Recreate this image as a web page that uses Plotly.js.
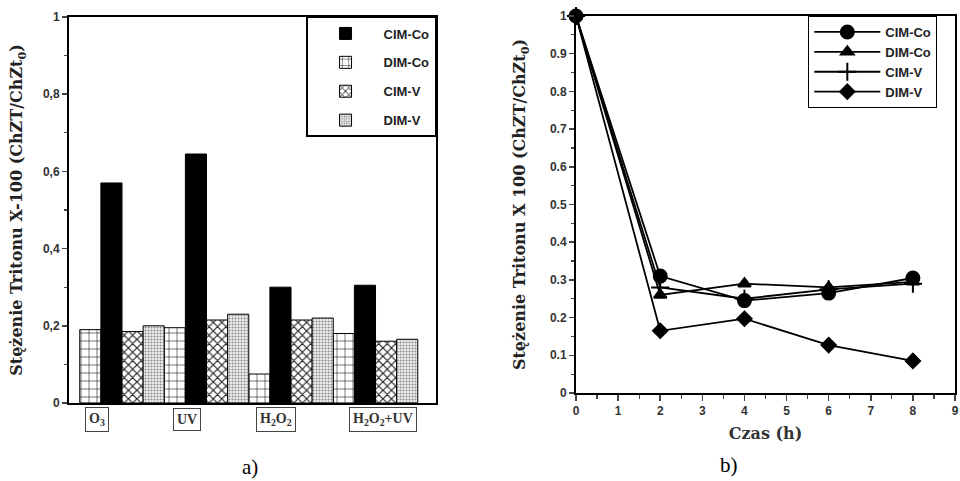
<!DOCTYPE html>
<html><head><meta charset="utf-8">
<script src="https://cdn.plot.ly/plotly-3.0.1.min.js"></script>
<style>html,body{margin:0;padding:0;background:#fff}#chart{width:960px;height:481px}</style>
</head><body><div id="chart"></div>
<script>
// ---- Panel a) data ----
const processes = ['O3', 'UV', 'H2O2', 'H2O2+UV'];
const processLabels = ['O<sub>3</sub>', 'UV', 'H<sub>2</sub>O<sub>2</sub>', 'H<sub>2</sub>O<sub>2</sub>+UV'];
const dimCo = [0.19, 0.195, 0.075, 0.18];
const cimCo = [0.57, 0.645, 0.30, 0.305];
const cimV  = [0.185, 0.215, 0.215, 0.16];
const dimV  = [0.20, 0.23, 0.22, 0.165];
const yTicksA = [0, 0.2, 0.4, 0.6, 0.8, 1];
const yTickTextA = ['0', '0,2', '0,4', '0,6', '0,8', '1'];

// ---- Panel b) data ----
const timeH = [0, 2, 4, 6, 8];
const cimCoT = [1, 0.31, 0.245, 0.265, 0.305];
const dimCoT = [1, 0.26, 0.29, 0.28, 0.295];
const cimVT  = [1, 0.28, 0.25, 0.275, 0.29];
const dimVT  = [1, 0.165, 0.197, 0.127, 0.085];
const yTicksB = [0, 0.1, 0.2, 0.3, 0.4, 0.5, 0.6, 0.7, 0.8, 0.9, 1];
const yTickTextB = ['0', '0.1', '0.2', '0.3', '0.4', '0.5', '0.6', '0.7', '0.8', '0.9', '1'];
const xTicksB = [0, 1, 2, 3, 4, 5, 6, 7, 8, 9];

const seriesNames = ['CIM-Co', 'DIM-Co', 'CIM-V', 'DIM-V'];

const barLine = {color: '#000', width: 1};
const traces = [
  {type: 'bar', name: seriesNames[1], x: processes, y: dimCo, xaxis: 'x', yaxis: 'y', legendrank: 2, legendgroup: 'g2',
   marker: {color: '#fff', line: barLine, pattern: {shape: '+', fgcolor: '#111', bgcolor: '#fff', size: 8, solidity: 0.14}}},
  {type: 'bar', name: seriesNames[0], x: processes, y: cimCo, xaxis: 'x', yaxis: 'y', legendrank: 1, legendgroup: 'g1',
   marker: {color: '#000', line: barLine}},
  {type: 'bar', name: seriesNames[2], x: processes, y: cimV, xaxis: 'x', yaxis: 'y', legendrank: 3, legendgroup: 'g3',
   marker: {color: '#fff', line: barLine, pattern: {shape: 'x', fgcolor: '#222', bgcolor: '#fff', size: 6, solidity: 0.35}}},
  {type: 'bar', name: seriesNames[3], x: processes, y: dimV, xaxis: 'x', yaxis: 'y', legendrank: 4, legendgroup: 'g4',
   marker: {color: '#eee', line: barLine, pattern: {shape: '.', fgcolor: '#888', bgcolor: '#f2f2f2', size: 3, solidity: 0.4}}},
];

const lineStyle = {color: '#000', width: 1.8};
const mk = (symbol, size) => ({symbol: symbol, size: size, color: '#000', line: {color: '#000', width: 2}});
traces.push(
  {type: 'scatter', mode: 'lines+markers', name: seriesNames[0], x: timeH, y: cimCoT, xaxis: 'x2', yaxis: 'y2', legend: 'legend2', cliponaxis: false, line: lineStyle, marker: mk('circle', 13)},
  {type: 'scatter', mode: 'lines+markers', name: seriesNames[1], x: timeH, y: dimCoT, xaxis: 'x2', yaxis: 'y2', legend: 'legend2', cliponaxis: false, line: lineStyle, marker: mk('triangle-up', 11)},
  {type: 'scatter', mode: 'lines+markers', name: seriesNames[2], x: timeH, y: cimVT, xaxis: 'x2', yaxis: 'y2', legend: 'legend2', cliponaxis: false, line: lineStyle, marker: mk('cross-thin', 13)},
  {type: 'scatter', mode: 'lines+markers', name: seriesNames[3], x: timeH, y: dimVT, xaxis: 'x2', yaxis: 'y2', legend: 'legend2', cliponaxis: false, line: lineStyle, marker: mk('diamond', 11)}
);

const tickFont = {family: 'Liberation Sans, Arial, sans-serif', size: 12, color: '#333', weight: 'bold'};
const titleFont = {family: 'DejaVu Serif, serif', size: 16, color: '#222'};
const yTitleText = '<b>Stężenie Tritonu X-100 (ChZT/ChZt<sub>0</sub>)</b>';
const yTitleTextB = '<b>Stężenie Tritonu X 100 (ChZT/ChZt<sub>0</sub>)</b>';

const labelShift = [-25, -20, -15, 7];
const annotations = processLabels.map((t, i) => ({
  xref: 'x', yref: 'paper', x: processes[i], y: 0.127, yanchor: 'middle', xshift: labelShift[i], text: t, showarrow: false,
  font: {family: 'Liberation Serif, serif', size: 14, color: '#333', weight: 'bold'}, bordercolor: '#444', borderwidth: 1, borderpad: 3
}));
annotations.push(
  {xref: 'paper', yref: 'paper', x: 0.25, y: 0.029, yanchor: 'middle', text: 'a)', showarrow: false, font: {family: 'Liberation Serif, serif', size: 21, color: '#000'}},
  {xref: 'paper', yref: 'paper', x: 0.771, y: 0.033, yanchor: 'middle', text: 'b)', showarrow: false, font: {family: 'Liberation Serif, serif', size: 21, color: '#000'}}
);

const layout = {
  width: 960, height: 481,
  margin: {l: 0, r: 0, t: 0, b: 0},
  paper_bgcolor: '#fff', plot_bgcolor: '#fff',
  barmode: 'group', bargap: 0, bargroupgap: 0,
  showlegend: true,
  xaxis: {domain: [0.0719, 0.4542], type: 'category', range: [-0.627, 3.716], showline: true, mirror: true, linecolor: '#000', linewidth: 2,
          ticks: '', showticklabels: false, showgrid: false, zeroline: false, anchor: 'y', fixedrange: true},
  yaxis: {domain: [0.1622, 0.9647], range: [0, 1], tickmode: 'array', tickvals: yTicksA, ticktext: yTickTextA, ticks: 'outside', ticklen: 5, tickwidth: 1.5,
          minor: {tickmode: 'linear', tick0: 0, dtick: 0.1, ticks: 'outside', ticklen: 3, tickwidth: 1.2, showgrid: false},
          showline: true, mirror: true, linecolor: '#000', linewidth: 2, showgrid: false, zeroline: false, tickfont: tickFont,
          title: {text: yTitleText, font: titleFont, standoff: 16}, anchor: 'x', automargin: false},
  xaxis2: {domain: [0.6, 0.9948], range: [0, 9], tickmode: 'array', tickvals: xTicksB, ticks: 'outside', ticklen: 6, tickwidth: 1.5,
           minor: {tickmode: 'linear', tick0: 0, dtick: 0.5, ticks: 'outside', ticklen: 4, tickwidth: 1.2, showgrid: false},
           showline: true, mirror: true, linecolor: '#000', linewidth: 2, showgrid: false, zeroline: false, tickfont: tickFont,
           title: {text: '<b>Czas (h)</b>', font: {family: 'DejaVu Serif, serif', size: 16, color: '#333'}, standoff: 10}, anchor: 'y2', automargin: false},
  yaxis2: {domain: [0.183, 0.9667], range: [0, 1], tickmode: 'array', tickvals: yTicksB, ticktext: yTickTextB, ticks: 'outside', ticklen: 5, tickwidth: 1.5,
           minor: {tickmode: 'linear', tick0: 0, dtick: 0.05, ticks: 'outside', ticklen: 3, tickwidth: 1.2, showgrid: false},
           showline: true, mirror: true, linecolor: '#000', linewidth: 2, showgrid: false, zeroline: false, tickfont: tickFont,
           title: {text: yTitleTextB, font: titleFont, standoff: 20}, anchor: 'x2', automargin: false},
  legend: {x: 0.4542, y: 0.9647, xanchor: 'right', yanchor: 'top', bgcolor: '#fff', bordercolor: '#000', borderwidth: 1.5,
           font: {family: 'Liberation Sans, Arial, sans-serif', size: 13, color: '#222', weight: 'bold'}, traceorder: 'grouped', tracegroupgap: 9, itemwidth: 66},
  legend2: {x: 0.842, y: 0.9667, xanchor: 'left', yanchor: 'top', bgcolor: '#fff', bordercolor: '#000', borderwidth: 1,
            font: {family: 'Liberation Sans, Arial, sans-serif', size: 13, color: '#222', weight: 'bold'}, itemwidth: 66},
  annotations: annotations
};

Plotly.newPlot('chart', traces, layout, {staticPlot: true, displayModeBar: false});
</script>
</body></html>
